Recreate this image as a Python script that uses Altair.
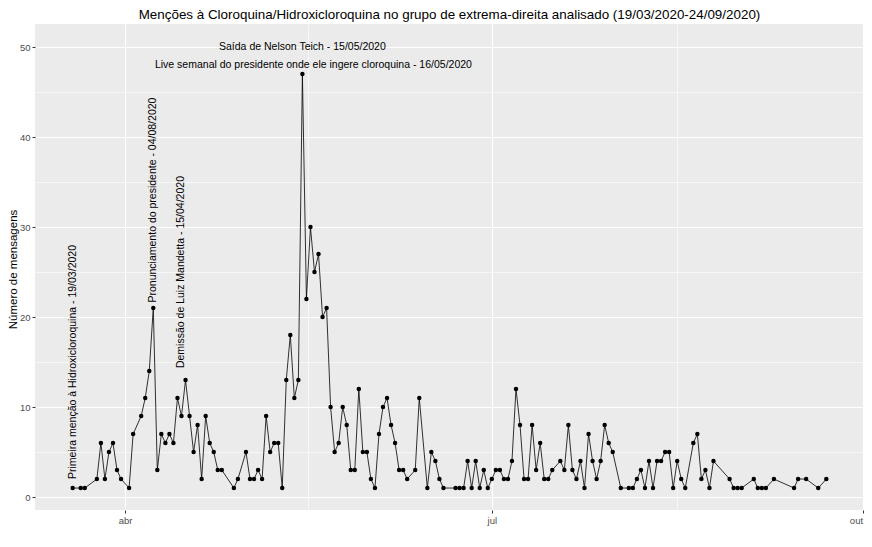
import altair as alt
import pandas as pd

# Mensagens por dia (dias sem mensagens não aparecem)
datas = [
    "2020-03-19", "2020-03-21", "2020-03-22", "2020-03-25", "2020-03-26", "2020-03-27",
    "2020-03-28", "2020-03-29", "2020-03-30", "2020-03-31",
    "2020-04-02", "2020-04-03", "2020-04-05", "2020-04-06", "2020-04-07", "2020-04-08",
    "2020-04-09", "2020-04-10", "2020-04-11", "2020-04-12", "2020-04-13", "2020-04-14",
    "2020-04-15", "2020-04-16", "2020-04-17", "2020-04-18", "2020-04-19", "2020-04-20",
    "2020-04-21", "2020-04-22", "2020-04-23", "2020-04-24", "2020-04-25", "2020-04-28",
    "2020-04-29",
    "2020-05-01", "2020-05-02", "2020-05-03", "2020-05-04", "2020-05-05", "2020-05-06",
    "2020-05-07", "2020-05-08", "2020-05-09", "2020-05-10", "2020-05-11", "2020-05-12",
    "2020-05-13", "2020-05-14", "2020-05-15", "2020-05-16", "2020-05-17", "2020-05-18",
    "2020-05-19", "2020-05-20", "2020-05-21", "2020-05-22", "2020-05-23", "2020-05-24",
    "2020-05-25", "2020-05-26", "2020-05-27", "2020-05-28", "2020-05-29", "2020-05-30",
    "2020-05-31",
    "2020-06-01", "2020-06-02", "2020-06-03", "2020-06-04", "2020-06-05", "2020-06-06",
    "2020-06-07", "2020-06-08", "2020-06-09", "2020-06-10", "2020-06-12", "2020-06-13",
    "2020-06-15", "2020-06-16", "2020-06-17", "2020-06-18", "2020-06-19", "2020-06-22",
    "2020-06-23", "2020-06-24", "2020-06-25", "2020-06-26", "2020-06-27", "2020-06-28",
    "2020-06-29", "2020-06-30",
    "2020-07-01", "2020-07-02", "2020-07-03", "2020-07-04", "2020-07-05", "2020-07-06",
    "2020-07-07", "2020-07-08", "2020-07-09", "2020-07-10", "2020-07-11", "2020-07-12",
    "2020-07-13", "2020-07-14", "2020-07-15", "2020-07-16", "2020-07-18", "2020-07-19",
    "2020-07-20", "2020-07-21", "2020-07-22", "2020-07-23", "2020-07-24", "2020-07-25",
    "2020-07-26", "2020-07-27", "2020-07-28", "2020-07-29", "2020-07-30", "2020-07-31",
    "2020-08-02", "2020-08-04", "2020-08-05", "2020-08-06", "2020-08-07", "2020-08-08",
    "2020-08-09", "2020-08-10", "2020-08-11", "2020-08-12", "2020-08-13", "2020-08-14",
    "2020-08-15", "2020-08-16", "2020-08-17", "2020-08-18", "2020-08-20", "2020-08-21",
    "2020-08-22", "2020-08-23", "2020-08-24", "2020-08-25", "2020-08-29", "2020-08-30",
    "2020-08-31",
    "2020-09-01", "2020-09-04", "2020-09-05", "2020-09-06", "2020-09-07", "2020-09-09",
    "2020-09-14", "2020-09-15", "2020-09-17", "2020-09-20", "2020-09-22",
]
mensagens = [
    1, 1, 1, 2, 6, 2, 5, 6, 3, 2,
    1, 7, 9, 11, 14, 21, 3, 7, 6, 7, 6, 11, 9, 13, 9, 5, 8, 2, 9, 6, 5, 3, 3, 1, 2,
    5, 2, 2, 3, 2, 9, 5, 6, 6, 1, 13, 18, 11, 13, 47, 22, 30, 25, 27, 20, 21, 10, 5, 6,
    10, 8, 3, 3, 12, 5, 5,
    2, 1, 7, 10, 11, 8, 6, 3, 3, 2, 3, 11, 1, 5, 4, 2, 1, 1, 1, 1, 4, 1, 4, 1, 3, 1,
    2, 3, 3, 2, 2, 4, 12, 8, 2, 2, 8, 3, 6, 2, 2, 3, 4, 3, 8, 3, 2, 4, 1, 7, 4, 2, 4,
    8, 6, 5,
    1, 1, 1, 2, 3, 1, 4, 1, 4, 4, 5, 5, 1, 4, 2, 1, 6, 7, 2, 3, 1, 4, 2, 1, 1,
    1, 2, 1, 1, 1, 2, 1, 2, 2, 1, 2,
]

# Anotações verticais
vert_textos = [
    "Primeira menção à Hidroxicloroquina - 19/03/2020",
    "Pronunciamento do presidente - 04/08/2020",
    "Demissão de Luiz Mandetta - 15/04/2020",
]
vert_datas = ["2020-03-19", "2020-04-08", "2020-04-15"]
vert_y = [15, 33, 25]

# Anotações horizontais
hor_textos = [
    "Saída de Nelson Teich - 15/05/2020",
    "Live semanal do presidente onde ele ingere cloroquina - 16/05/2020",
]
hor_datas = ["2020-05-15", "2020-05-16"]
hor_y = [50, 48]

FONTE = "Liberation Sans"

df = pd.DataFrame({"data": pd.to_datetime(datas), "n": mensagens})
df_vert = pd.DataFrame({"data": pd.to_datetime(vert_datas), "y": vert_y, "texto": vert_textos})
df_hor = pd.DataFrame({"data": pd.to_datetime(hor_datas), "y": hor_y, "texto": hor_textos})

# eixo x: grade maior no dia 1 do mês, grade menor no meio
maior_x = "date(datum.value) == 1"
eixo_x = alt.Axis(
    values=[
        alt.DateTime(year=2020, month=4, date=1),
        alt.DateTime(year=2020, month=5, date=16, hours=12),
        alt.DateTime(year=2020, month=7, date=1),
        alt.DateTime(year=2020, month=8, date=16),
        alt.DateTime(year=2020, month=10, date=1),
    ],
    labelExpr=(
        "date(datum.value) == 1 ? (month(datum.value) == 3 ? 'abr' : "
        "month(datum.value) == 6 ? 'jul' : 'out') : ''"
    ),
    # 'out' fica na borda da página: alinhado à direita para não ser cortado
    labelAlign={"condition": {"test": "month(datum.value) == 9", "value": "right"}, "value": "center"},
    gridWidth={"condition": {"test": maior_x, "value": 1.2}, "value": 0.6},
    tickOpacity={"condition": {"test": maior_x, "value": 1}, "value": 0},
    labelFontSize=9.5,
    labelPadding=2,
)

maior_y = "datum.value % 10 == 0"
eixo_y = alt.Axis(
    values=[0, 5, 10, 15, 20, 25, 30, 35, 40, 45, 50],
    labelExpr="datum.value % 10 == 0 ? datum.label : ''",
    gridWidth={"condition": {"test": maior_y, "value": 1.2}, "value": 0.6},
    tickOpacity={"condition": {"test": maior_y, "value": 1}, "value": 0},
    labelFontSize=9.5,
    labelPadding=2,
    titleFontSize=11.5,
    titleFontWeight="normal",
    titleColor="black",
    titleAngle=270,
    titleX=-22,
    titleY=245,
    titleAlign="center",
    titleBaseline="middle",
)

escala_x = alt.Scale(domain=[
    alt.DateTime(year=2020, month=3, date=9, hours=15, minutes=36),
    alt.DateTime(year=2020, month=10, date=1, hours=8, minutes=24),
])
escala_y = alt.Scale(domain=[-1.44, 52.56], nice=False, zero=False)

x = alt.X("data:T", title=None, scale=escala_x, axis=eixo_x)
y = alt.Y("n:Q", title="Número de mensagens", scale=escala_y, axis=eixo_y)

linha = alt.Chart(df).mark_line(color="black", strokeWidth=0.8).encode(x=x, y=y)
pontos = alt.Chart(df).mark_point(filled=True, color="black", size=20, opacity=1).encode(x=x, y=y)

texto_vert = alt.Chart(df_vert).mark_text(
    angle=270, align="center", baseline="middle", fontSize=10.5, font=FONTE, color="black"
).encode(x="data:T", y="y:Q", text="texto:N")

texto_teich = alt.Chart(df_hor.iloc[[0]]).mark_text(
    align="center", baseline="middle", fontSize=10.5, font=FONTE, color="black"
).encode(x="data:T", y="y:Q", text="texto:N")

texto_live = alt.Chart(df_hor.iloc[[1]]).mark_text(
    align="center", baseline="middle", fontSize=10.5, font=FONTE, color="black", dx=7
).encode(x="data:T", y="y:Q", text="texto:N")

chart = alt.layer(linha, pontos, texto_vert, texto_teich, texto_live).properties(
    width=829,
    height=486,
    autosize=alt.AutoSizeParams(type="none"),
    padding={"left": 27, "top": 16, "right": 0, "bottom": 25},
    title=alt.TitleParams(
        text="Menções à Cloroquina/Hidroxicloroquina no grupo de extrema-direita analisado (19/03/2020-24/09/2020)",
        fontSize=13.4,
        fontWeight="normal",
        font=FONTE,
        color="black",
        anchor="middle",
        offset=3,
    ),
).configure(
    font=FONTE,
).configure_axis(
    labelFont=FONTE,
    titleFont=FONTE,
    labelColor="#4D4D4D",
    tickColor="#333333",
    tickSize=3,
    tickWidth=1,
    gridColor="white",
    domain=False,
).configure_view(
    fill="#EBEBEB",
    strokeWidth=0,
)

chart.save("out.html", embed_options={"renderer": "svg", "actions": False})
